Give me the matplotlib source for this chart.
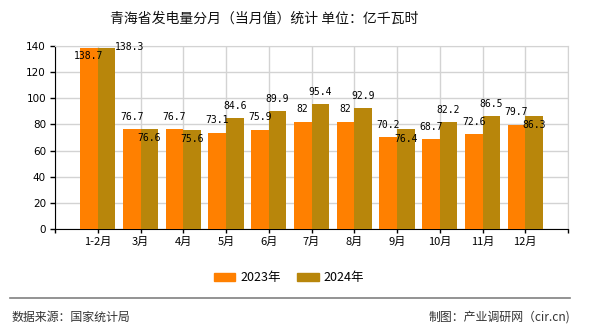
import matplotlib
matplotlib.use('Agg')
import matplotlib.pyplot as plt
from matplotlib.lines import Line2D
from matplotlib.patches import Patch
import numpy as np

plt.rcParams['font.family'] = ['Noto Sans CJK SC', 'DejaVu Sans']

months = ['1-2月', '3月', '4月', '5月', '6月', '7月', '8月', '9月', '10月', '11月', '12月']
val_2023 = [138.7, 76.7, 76.7, 73.1, 75.9, 82, 82, 70.2, 68.7, 72.6, 79.7]
val_2024 = [138.3, 76.6, 75.6, 84.6, 89.9, 95.4, 92.9, 76.4, 82.2, 86.5, 86.3]
series_names = ['2023年', '2024年']

c23 = '#FF8000'
c24 = '#B8860B'

# vertical offset of value labels, in pixels (positive = above bar top)
dy_23 = [-8, 12, 12, 13, 13, 13, 13, 12, 12, 12, 13]
dy_24 = [1, -9, -9, 12, 12, 12, 12, -10, 12, 12, -9]

fig = plt.figure(figsize=(5.9, 3.3), dpi=100)
ax = fig.add_axes([55 / 590, 1 - 229 / 330, 513 / 590, 183 / 330])

x = np.arange(len(months))
w = 0.41
ax.bar(x - w / 2, val_2023, width=w, color=c23, zorder=3)
ax.bar(x + w / 2, val_2024, width=w, color=c24, zorder=3)

px = 72 / 100  # points per pixel
lab_font = dict(family='DejaVu Sans Mono', fontsize=7, color='black', zorder=5)
for i in range(len(months)):
    ax.annotate(f'{val_2023[i]:g}', (x[i] - w / 2, val_2023[i]),
                xytext=(0, dy_23[i] * px), textcoords='offset points',
                ha='center', va='center', **lab_font)
    if i == 0:
        ax.annotate(f'{val_2024[i]:g}', (x[i] + w, val_2024[i]),
                    xytext=(0, dy_24[i] * px), textcoords='offset points',
                    ha='left', va='center', **lab_font)
    else:
        ax.annotate(f'{val_2024[i]:g}', (x[i] + w / 2, val_2024[i]),
                    xytext=(0, dy_24[i] * px), textcoords='offset points',
                    ha='center', va='center', **lab_font)

ax.set_xlim(-1, len(months))
ax.set_ylim(0, 140)
ax.set_yticks(np.arange(0, 141, 20))
ax.set_yticklabels([str(v) for v in range(0, 141, 20)], family='DejaVu Sans', fontsize=7.5)
ax.set_xticks(np.arange(-1, len(months) + 1))
ax.set_xticklabels([''] + months + [''], fontsize=8)

ax.grid(True, color='#D3D3D3', linewidth=1, zorder=0)
ax.set_axisbelow(True)
for s in ['top', 'right']:
    ax.spines[s].set_color('#D3D3D3')
for s in ['left', 'bottom']:
    ax.spines[s].set_color('black')
ax.tick_params(axis='y', length=3.6, width=1, pad=2.9, colors='black')
ax.tick_params(axis='x', length=3, width=1, pad=3, colors='black')

fig.text(264 / 590, 1 - 18.5 / 330, '青海省发电量分月（当月值）统计 单位：亿千瓦时',
         ha='center', va='center', fontsize=10, color='#111111')

handles = [Patch(color=c23), Patch(color=c24)]
fig.legend(handles, series_names, loc='center', bbox_to_anchor=(289 / 590, 1 - 277.5 / 330),
           ncol=2, frameon=False, fontsize=9, handlelength=1.74, handleheight=0.62,
           handletextpad=0.4, columnspacing=1.3, borderpad=0)

fig.add_artist(Line2D([10 / 590, 570 / 590], [1 - 298 / 330] * 2, color='#808080', lw=1.2))
fig.text(12 / 590, 1 - 317 / 330, '数据来源：国家统计局', ha='left', va='center',
         fontsize=8.6, color='#333333')
fig.text(570 / 590, 1 - 317 / 330, '制图：产业调研网（cir.cn)', ha='right', va='center',
         fontsize=8.6, color='#333333')

fig.savefig('out.png', dpi=100)
